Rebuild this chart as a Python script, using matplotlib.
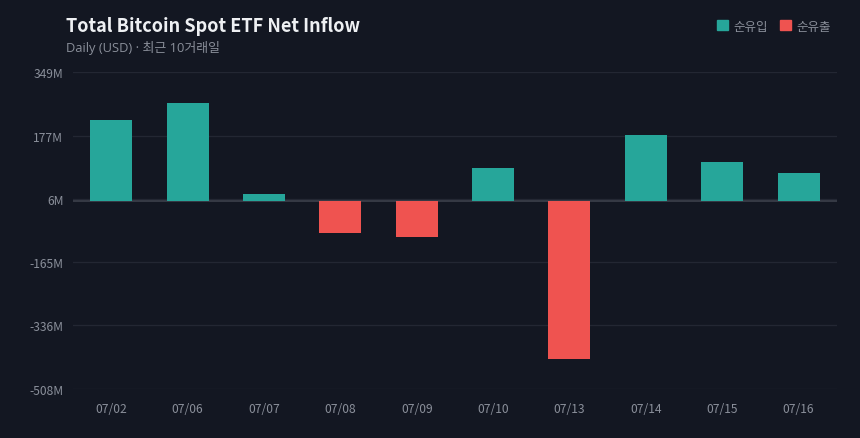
import matplotlib.pyplot as plt
from matplotlib.patches import Patch

plt.rcParams['font.family'] = ['Noto Sans CJK KR', 'DejaVu Sans']

dates = ['07/02', '07/06', '07/07', '07/08', '07/09', '07/10', '07/13', '07/14', '07/15', '07/16']
flows = [219, 265, 19, -87, -97, 89, -427, 178, 105, 76]  # million USD
yticks = [349, 177, 6, -165, -336, -508]
ytick_labels = ['349M', '177M', '6M', '-165M', '-336M', '-508M']

bg = '#131722'
up = '#26a69a'
down = '#ef5350'
txt = '#8a8f9a'

fig = plt.figure(figsize=(8.6, 4.39), dpi=100, facecolor=bg)
ax = fig.add_axes([0.085, 0.1116, 0.888, 0.7221], facecolor=bg)

x = range(len(dates))
colors = [up if v >= 0 else down for v in flows]
ax.bar(x, flows, width=0.55, color=colors, zorder=3)

ax.set_xlim(-0.5, len(dates) - 0.5)
ax.set_ylim(-508, 349)
ax.set_yticks(yticks)
ax.set_yticklabels(ytick_labels)
ax.set_xticks(list(x))
ax.set_xticklabels(dates)
ax.tick_params(length=0, colors=txt, labelsize=8.7)
ax.tick_params(axis='y', pad=7)
ax.tick_params(axis='x', pad=9)
ax.grid(axis='y', color='#232733', linewidth=0.9, zorder=0)
ax.axhline(0, color='#363a45', linewidth=1.4, zorder=2)
for s in ax.spines.values():
    s.set_visible(False)

fig.text(66 / 860, 1 - 26 / 439, 'Total Bitcoin Spot ETF Net Inflow', color='#eef0f3',
         fontsize=13, fontweight='bold', va='center', ha='left')
fig.text(66 / 860, 1 - 48 / 439, 'Daily (USD) · 최근 10거래일', color=txt,
         fontsize=9.3, va='center', ha='left',
         family=['Open Sans', 'Noto Sans CJK KR'])

handles = [Patch(color=up, label='순유입'), Patch(color=down, label='순유출')]
fig.legend(handles=handles, loc='center right', bbox_to_anchor=(842 / 860, 1 - 27 / 439),
           ncol=2, frameon=False, labelcolor=txt, fontsize=9,
           handlelength=0.9, handleheight=0.9, handletextpad=0.4, columnspacing=1.0)

fig.savefig('out.png', dpi=100, facecolor=bg)
